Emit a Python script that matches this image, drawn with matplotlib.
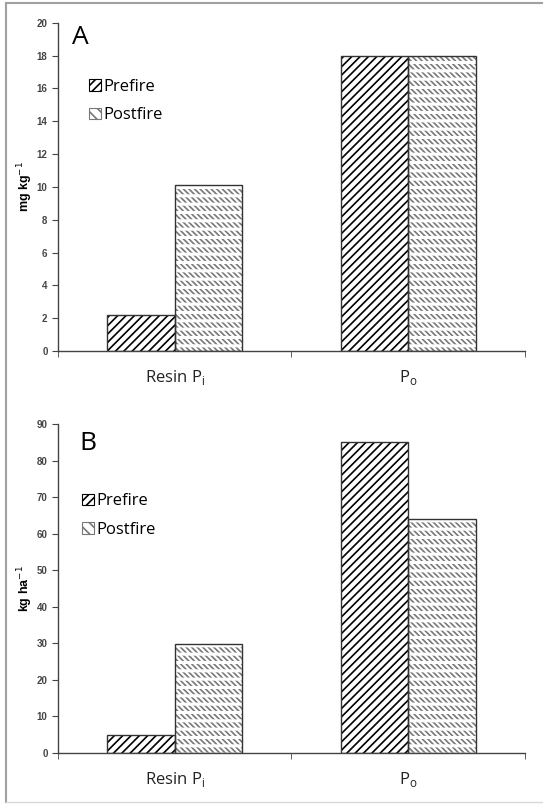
import numpy as np
import matplotlib.pyplot as plt
from matplotlib.lines import Line2D
from matplotlib.patches import Patch

plt.rcParams.update({'hatch.linewidth': 1.2})

categories = ['Resin P$_\\mathregular{i}$', 'P$_\\mathregular{o}$']
series = ['Prefire', 'Postfire']
conc_prefire = [2.2, 18.0]      # mg kg-1
conc_postfire = [10.1, 18.0]
stock_prefire = [5.0, 85.2]     # kg ha-1
stock_postfire = [29.8, 64.1]

fig = plt.figure(figsize=(5.43, 8.06), dpi=100)
axA = fig.add_axes([0.1068, 0.5645, 0.860, 0.4073])
axB = fig.add_axes([0.1068, 0.0658, 0.860, 0.4081])

# outer frame of the picture
fig.add_artist(Line2D([0.011, 0.011], [0.005, 0.996], color='#a0a0a0', lw=1.5))
fig.add_artist(Line2D([0.011, 1.0], [0.996, 0.996], color='#a0a0a0', lw=1.5))
fig.add_artist(Line2D([0.011, 1.0], [0.005, 0.005], color='#d8d8d8', lw=1.0))

x = np.arange(len(categories))
w = 0.29


def draw_panel(ax, pre, post, ymax, step, ylabel, letter, letter_xy, leg_xy):
    # prefire: black diagonal hatch
    ax.bar(x - w / 2, pre, w, facecolor='white', edgecolor='black',
           hatch='////', linewidth=0, zorder=2)
    ax.bar(x - w / 2, pre, w, facecolor='none', edgecolor='#333333',
           linewidth=1.0, zorder=4)
    # postfire: grey short back-slash rows
    ax.bar(x + w / 2, post, w, facecolor='white', edgecolor='#777777',
           hatch='\\\\\\\\\\\\', linewidth=0, zorder=2)
    with plt.rc_context({'hatch.linewidth': 2.2}):
        ax.bar(x + w / 2, post, w, facecolor='none', edgecolor='white',
               hatch='--', linewidth=0, zorder=3)
    ax.bar(x + w / 2, post, w, facecolor='none', edgecolor='#333333',
           linewidth=1.0, zorder=4)

    ax.set_xlim(-0.5, 1.5)
    ax.set_ylim(0, ymax)
    ax.set_yticks(np.arange(0, ymax + 1, step))
    ax.set_xticks(x)
    ax.set_xticklabels(categories, fontsize=12, family='Open Sans', color='#222222')
    ax.set_xticks([-0.5, 0.5, 1.5], minor=True)
    ax.tick_params(axis='x', which='major', length=0, pad=12)
    ax.tick_params(axis='x', which='minor', length=4, color='#444444', direction='out')
    ax.tick_params(axis='y', length=4, labelsize=7, labelcolor='#444444', color='#444444')
    for lab in ax.get_yticklabels():
        lab.set_family('Liberation Sans')
        lab.set_fontweight('bold')
    for s in ['top', 'right']:
        ax.spines[s].set_visible(False)
    for s in ['left', 'bottom']:
        ax.spines[s].set_color('#444444')
        ax.spines[s].set_linewidth(1.0)
    ax.set_ylabel(ylabel, fontsize=9, fontweight='bold', family='Liberation Sans', labelpad=1)
    ax.text(letter_xy[0], letter_xy[1], letter, transform=ax.transAxes,
            fontsize=19, family='Open Sans', va='center', ha='left')

    handles = [Patch(facecolor='white', edgecolor='black', hatch='////', linewidth=0.8),
               Patch(facecolor='white', edgecolor='#777777', hatch='\\\\\\', linewidth=0.8)]
    ax.legend(handles, series, loc='upper left', bbox_to_anchor=leg_xy, frameon=False,
              handlelength=0.7, handleheight=0.7, handletextpad=0.15, labelspacing=0.75,
              prop={'family': 'Open Sans', 'size': 12})


draw_panel(axA, conc_prefire, conc_postfire, 20, 2, 'mg kg$^{-1}$', 'A',
           (0.03, 0.955), (0.035, 0.875))
draw_panel(axB, stock_prefire, stock_postfire, 90, 10, 'kg ha$^{-1}$', 'B',
           (0.045, 0.94), (0.02, 0.835))

plt.savefig('out.png', dpi=100)
